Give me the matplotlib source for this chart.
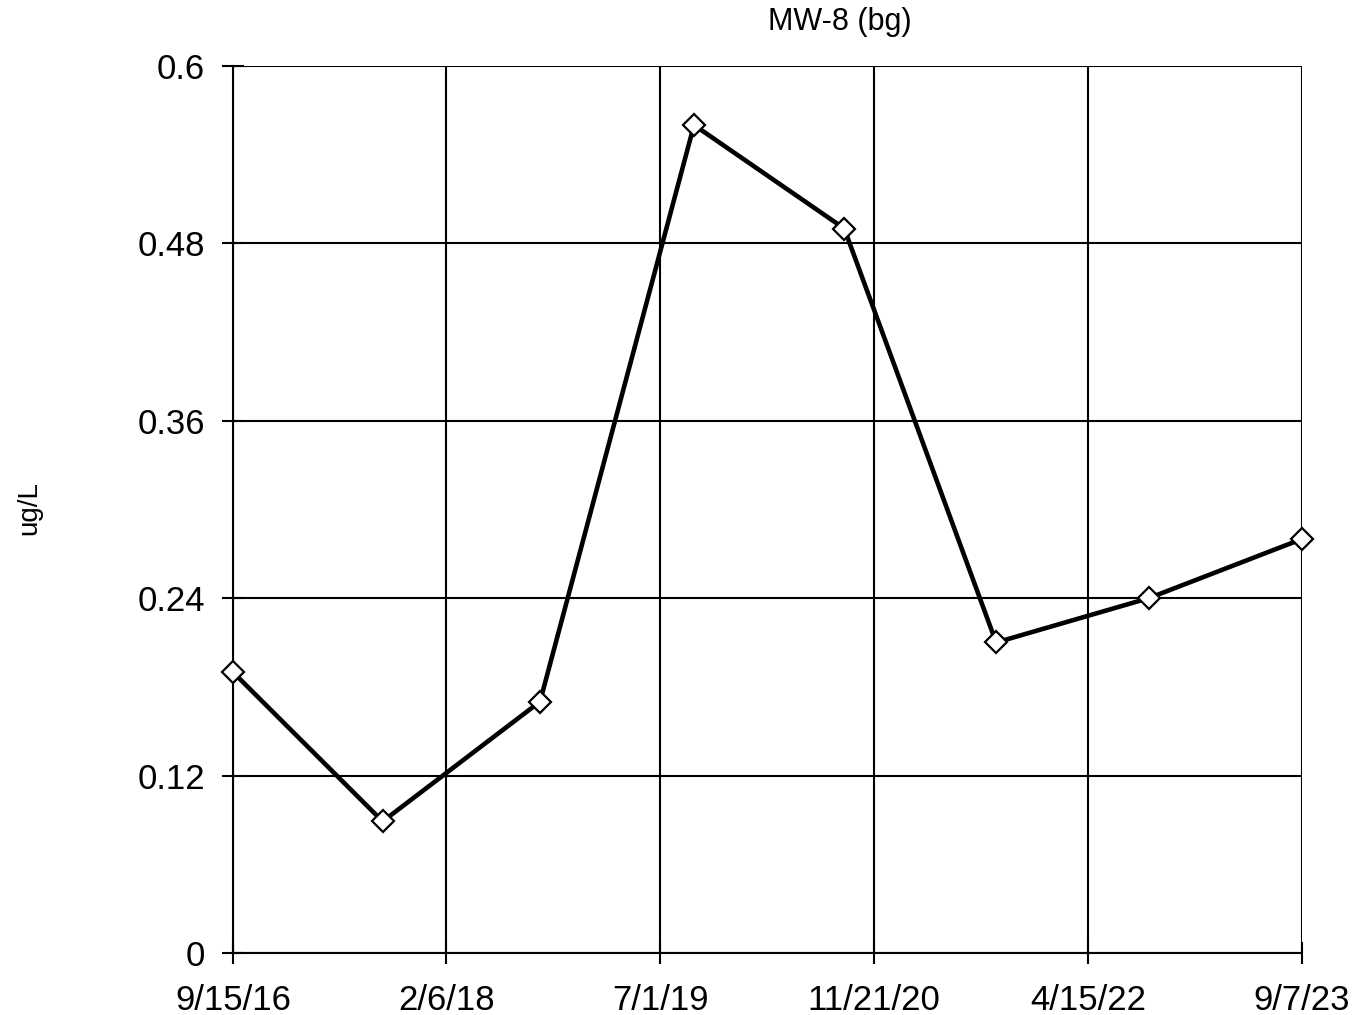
import matplotlib
matplotlib.use("Agg")
import matplotlib.pyplot as plt
import pandas as pd

plt.rcParams['font.family'] = ['Liberation Sans', 'DejaVu Sans']

# sample dates and concentrations
dates = pd.to_datetime(['2016-09-15', '2017-09-07', '2018-09-17', '2019-09-19',
                        '2020-09-11', '2021-09-08', '2022-09-07', '2023-09-07'])
values = [0.19, 0.089, 0.17, 0.56, 0.49, 0.21, 0.24, 0.28]

tick_dates = pd.to_datetime(['2016-09-15', '2018-02-06', '2019-07-01',
                             '2020-11-21', '2022-04-15', '2023-09-07'])
tick_labels = ['9/15/16', '2/6/18', '7/1/19', '11/21/20', '4/15/22', '9/7/23']
y_ticks = [0, 0.12, 0.24, 0.36, 0.48, 0.6]
y_labels = ['0', '0.12', '0.24', '0.36', '0.48', '0.6']

fig = plt.figure(figsize=(13.54, 10.15), dpi=100)
ax = fig.add_axes([0.172, 0.0611, 0.7896, 0.874])

ax.plot(dates, values, color='black', lw=3.3, marker='D', markersize=11,
        markerfacecolor='white', markeredgecolor='black', markeredgewidth=1.6,
        zorder=3, clip_on=False)

ax.set_xlim(tick_dates[0], tick_dates[-1])
ax.set_ylim(0, 0.6)
ax.set_xticks(tick_dates)
ax.set_xticklabels(tick_labels)
ax.set_yticks(y_ticks)
ax.set_yticklabels(y_labels)
ax.grid(True, color='black', lw=1.5)
ax.set_axisbelow(True)

for s in ax.spines.values():
    s.set_linewidth(1.5)
    s.set_color('black')
ax.spines['top'].set_visible(False)
ax.spines['right'].set_visible(False)

ax.tick_params(axis='both', direction='inout', length=16, width=1.5, labelsize=25)
ax.tick_params(axis='x', pad=14)
ax.tick_params(axis='y', pad=12)

fig.text(840 / 1354, 1 - 22 / 1015, 'MW-8 (bg)', ha='center', va='center', fontsize=22)
fig.text(29 / 1354, 1 - 508 / 1015, 'ug/L', ha='center', va='center',
         rotation=90, fontsize=20)

fig.savefig('out.png', dpi=100)
